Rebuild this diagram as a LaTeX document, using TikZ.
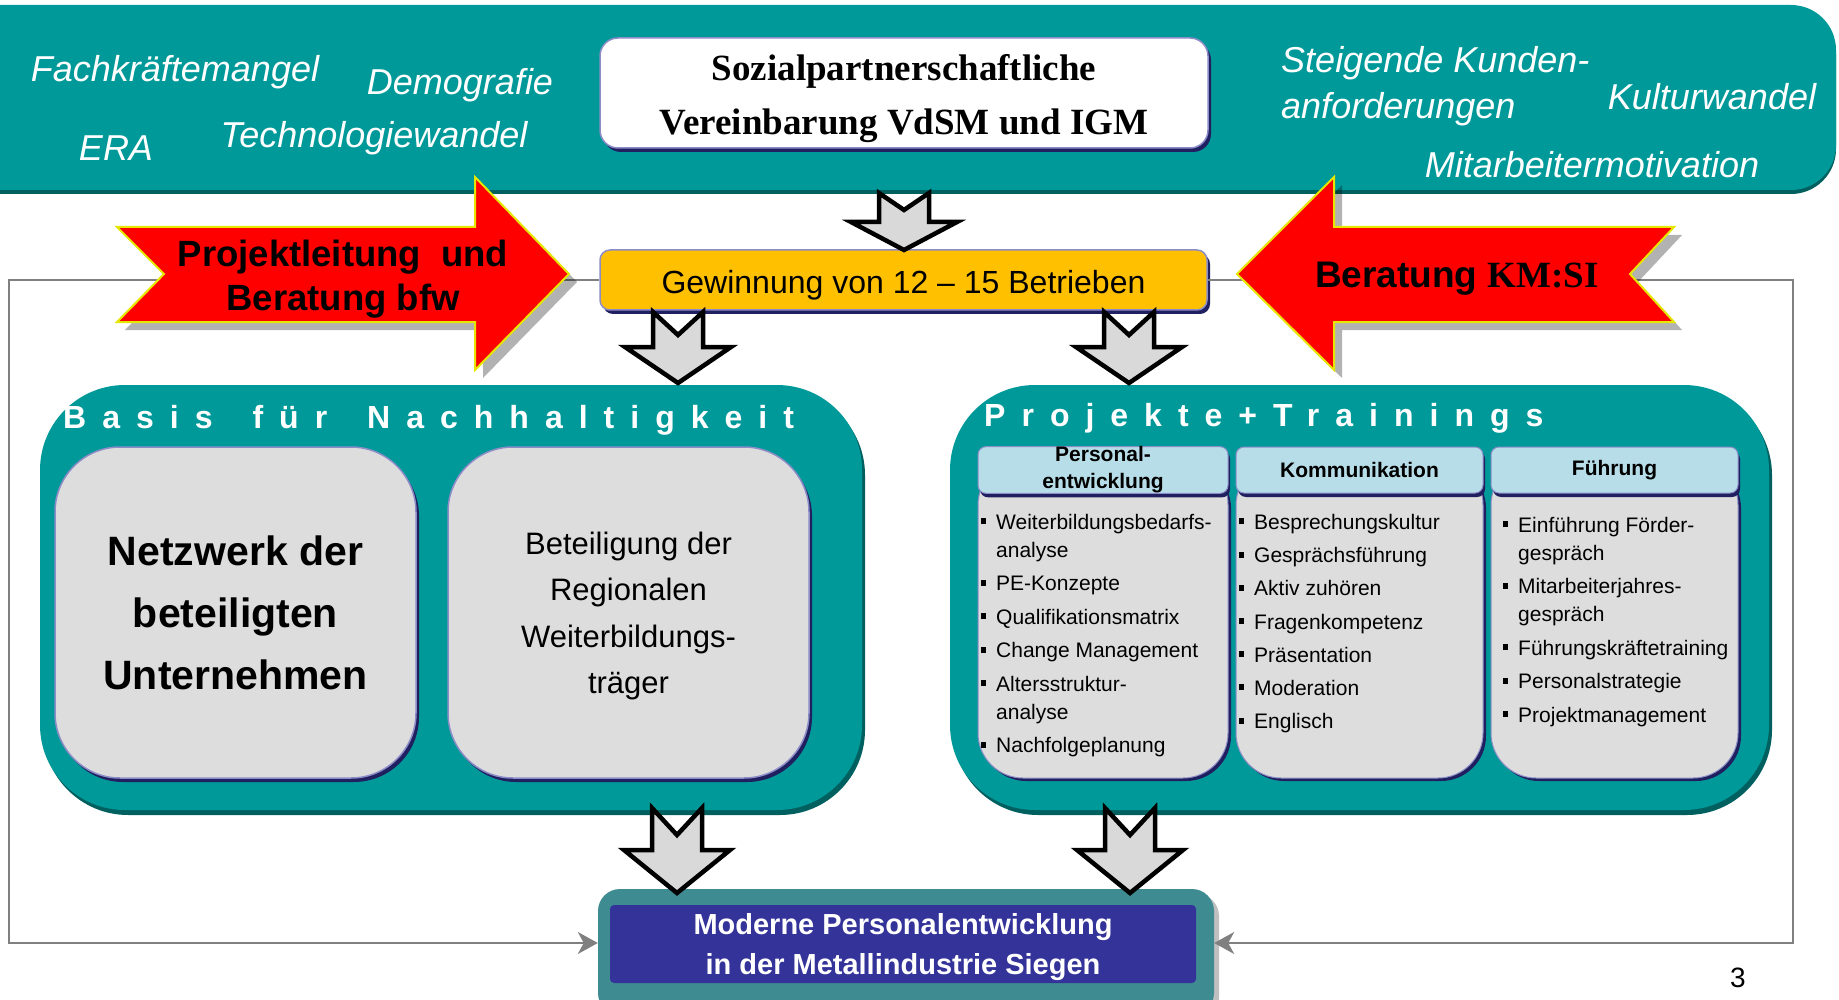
\documentclass[tikz,border=0pt]{standalone}
\usepackage{fontspec}
\setmainfont{Liberation Sans}
\newfontfamily\timesfont{Liberation Serif}
\newfontfamily\spacedfont[LetterSpace=50]{Liberation Sans}
\usetikzlibrary{shadows,arrows.meta}

\definecolor{bannerteal}{RGB}{0,153,153}
\definecolor{darkteal}{RGB}{0,96,96}
\definecolor{shadownavy}{RGB}{32,32,96}
\definecolor{boxgrey}{RGB}{221,221,221}
\definecolor{headcyan}{RGB}{183,222,232}
\definecolor{gewinnorange}{RGB}{255,192,0}
\definecolor{arrowgrey}{RGB}{217,217,217}
\definecolor{arrowyellow}{RGB}{230,230,0}
\definecolor{zielteal}{RGB}{62,140,146}
\definecolor{zielnavy}{RGB}{51,51,153}
\definecolor{linegrey}{RGB}{128,128,128}
\definecolor{rimlilac}{RGB}{140,140,200}

\newcommand{\DownArrow}[5]{%
  \draw[blockarrow] (#1-25,#2) -- (#1,#3) -- (#1+25,#2) -- (#1+25,#4)
    -- (#1+53,#4) -- (#1,#5) -- (#1-53,#4) -- (#1-25,#4) -- cycle;}
\newcommand{\pkt}{\makebox[15pt][l]{\rule[5pt]{5pt}{6pt}}}

\tikzset{
  navyshadow/.style={drop shadow={shadow xshift=3pt,shadow yshift=-4pt,fill=shadownavy,opacity=1}},
  bannerbox/.style={fill=bannerteal,rounded corners=45pt,minimum width=1896pt,minimum height=185pt,
    drop shadow={shadow xshift=0pt,shadow yshift=-4pt,fill=darkteal,opacity=1}},
  trend/.style={text=white,inner sep=0,font=\fontsize{36}{46}\selectfont\itshape},
  whitebox/.style={fill=white,draw=rimlilac,line width=1.5pt,rounded corners=18pt,inner sep=0,
    minimum width=608pt,minimum height=110pt,align=center,navyshadow,
    font=\timesfont\fontsize{37}{54}\selectfont\bfseries},
  gewinnbox/.style={fill=gewinnorange,draw=rimlilac,line width=1.5pt,rounded corners=10pt,inner sep=0,
    minimum width=607pt,minimum height=60pt,navyshadow,font=\fontsize{32}{38}\selectfont},
  redarrow/.style={fill=red,draw=arrowyellow,line width=2pt,
    drop shadow={shadow xshift=8pt,shadow yshift=-8pt,fill=black,opacity=0.3}},
  arrowtext/.style={inner sep=0,align=center,font=\fontsize{36.5}{44}\selectfont\bfseries},
  feedback/.style={draw=linegrey,line width=2pt,-{Stealth[length=20pt,width=22pt,inset=6pt]}},
  blockarrow/.style={fill=arrowgrey,draw=black,line width=4.5pt},
  tealbox/.style={fill=bannerteal,rounded corners=85pt,minimum height=425pt,
    drop shadow={shadow xshift=3pt,shadow yshift=-5pt,fill=darkteal,opacity=1}},
  boxtitle/.style={anchor=west,inner sep=0,text=white,font=\spacedfont\fontsize{32}{38}\selectfont\bfseries},
  greybox/.style={fill=boxgrey,draw=rimlilac,line width=1.5pt,rounded corners=65pt,inner sep=0,
    minimum width=361pt,minimum height=331pt,align=center,navyshadow},
  colbody/.style={fill=boxgrey,draw=rimlilac,line width=1pt,rounded corners=45pt,minimum height=318pt,
    drop shadow={shadow xshift=3pt,shadow yshift=-3pt,fill=shadownavy,opacity=1}},
  colhead/.style={fill=headcyan,draw=rimlilac,line width=1pt,rounded corners=8pt,minimum height=46pt,
    inner sep=0,align=center,font=\fontsize{21}{27}\selectfont\bfseries,
    drop shadow={shadow xshift=2pt,shadow yshift=-4pt,fill=shadownavy,opacity=1}},
  itemlist/.style={anchor=north west,inner sep=0,align=left,font=\fontsize{21}{28}\selectfont},
  zielrahmen/.style={fill=zielteal,rounded corners=22pt,minimum width=616pt,minimum height=126pt,
    drop shadow={shadow xshift=5pt,shadow yshift=-5pt,fill=black,opacity=0.25}},
  zielbox/.style={fill=zielnavy,rounded corners=4pt,minimum width=586pt,minimum height=78pt,inner sep=0,
    text=white,align=center,font=\fontsize{29}{40}\selectfont\bfseries}
}

\begin{document}
\begin{tikzpicture}[x=1pt,y=-1pt]
    \useasboundingbox (0,0) rectangle (1839,1000);

    %Banner
    \node[bannerbox] (banner) at (888,97.5){};
    \node[trend] (fachkraefte) at (175,72.5){Fachkräftemangel};
    \node[trend] (demografie) at (460,85.5){Demografie};
    \node[trend] (era) at (116,148){ERA};
    \node[trend] (technologie) at (374,138.5){Technologiewandel};
    \node[trend,anchor=west,align=left] (kunden) at (1281,86){Steigende Kunden-\\anforderungen};
    \node[trend] (kultur) at (1712,97){Kulturwandel};
    \node[trend] (motivation) at (1592,165){Mitarbeitermotivation};
    \node[whitebox] (vereinbarung) at (904,93){\rule{0pt}{37.5pt}Sozialpartnerschaftliche\\Vereinbarung VdSM und IGM};

    %Gewinnung
    \node[gewinnbox] (gewinnung) at (903.5,280){\rule{0pt}{33pt}Gewinnung von 12 – 15 Betrieben};

    %Basis
    \node[tealbox,minimum width=822pt] (basis) at (451,597.5){};
    \node[boxtitle] (basistitel) at (63,420){Basis\hspace{40pt}für\hspace{40pt}Nachhaltigkeit};
    \node[greybox,font=\fontsize{41}{62}\selectfont\bfseries] (netzwerk) at (235.5,612.5){Netzwerk der\\beteiligten\\Unternehmen};
    \node[greybox,font=\fontsize{31}{46.5}\selectfont] (beteiligung) at (628.5,612.5){\rule{0pt}{29.6pt}Beteiligung der\\Regionalen\\Weiterbildungs-\\träger};

    %Projekte + Trainings
    \node[tealbox,minimum width=819pt] (projekte) at (1359.5,597.5){};
    \node[boxtitle] (projekttitel) at (984,418){Projekte+Trainings};
    \node[colbody,minimum width=250pt] (pe) at (1103,619){};
    \node[colbody,minimum width=247pt] (kommunikation) at (1359.5,619){};
    \node[colbody,minimum width=247pt] (fuehrung) at (1614.5,619){};
    \node[colhead,minimum width=250pt] (pekopf) at (1103,470){Personal-\\entwicklung};
    \node[colhead,minimum width=247pt] (kommkopf) at (1359.5,470){Kommunikation};
    \node[colhead,minimum width=247pt] (fuehrkopf) at (1614.5,470){Führung};
    \node[itemlist] (peliste) at (981,514){\pkt Weiterbildungsbedarfs-\\
        \hspace*{15pt}analyse\\[5.5pt]
        \pkt PE-Konzepte\\[5.5pt]
        \pkt Qualifikationsmatrix\\[5.5pt]
        \pkt Change Management\\[5.5pt]
        \pkt Altersstruktur-\\
        \hspace*{15pt}analyse\\[5.5pt]
        \pkt Nachfolgeplanung};
    \node[itemlist] (kommliste) at (1239,514){\pkt Besprechungskultur\\[5.2pt]
        \pkt Gesprächsführung\\[5.2pt]
        \pkt Aktiv zuhören\\[5.2pt]
        \pkt Fragenkompetenz\\[5.2pt]
        \pkt Präsentation\\[5.2pt]
        \pkt Moderation\\[5.2pt]
        \pkt Englisch};
    \node[itemlist] (fuehrliste) at (1503,517){\pkt Einführung Förder-\\
        \hspace*{15pt}gespräch\\[5.5pt]
        \pkt Mitarbeiterjahres-\\
        \hspace*{15pt}gespräch\\[5.5pt]
        \pkt Führungskräftetraining\\[5.5pt]
        \pkt Personalstrategie\\[5.5pt]
        \pkt Projektmanagement};

    %Ziel
    \node[zielrahmen] (zielrahmen) at (906,952){};
    \node[zielbox] (ziel) at (903,944){\rule{0pt}{28pt}Moderne Personalentwicklung\\in der Metallindustrie Siegen};
    \node[anchor=north,inner sep=0,font=\fontsize{28}{34}\selectfont] (seite) at (1738,968){3};

    %Feedback lines
    \coordinate (lturn) at (9,943);
    \coordinate (rturn) at (1793,943);
    \draw[feedback] (gewinnung.west) -| (lturn) -- (zielrahmen.west |- lturn);
    \draw[feedback] (gewinnung.east) -| (rturn) -- (zielrahmen.east |- rturn);

    %Red arrows
    \draw[redarrow] (117,227) -- (475,227) -- (475,177) -- (569,274) -- (475,370)
        -- (475,322) -- (117,322) -- (164,274) -- cycle;
    \node[arrowtext] (projektleitung) at (343,279){Projektleitung\ \ und\\Beratung bfw};
    \draw[redarrow] (1674,227) -- (1334,227) -- (1334,177) -- (1237,274) -- (1334,370)
        -- (1334,322) -- (1674,322) -- (1630,274) -- cycle;
    \node[arrowtext,font=\fontsize{37}{44}\selectfont\bfseries] (kmsi) at (1457,279){Beratung {\timesfont KM:SI}};

    %Block arrows
    \DownArrow{904}{193}{210}{222}{250}
    \DownArrow{678}{312}{335}{347}{383}
    \DownArrow{1129}{312}{335}{347}{383}
    \DownArrow{677}{808}{835}{850}{893}
    \DownArrow{1130}{808}{835}{850}{893}

\end{tikzpicture}
\end{document}
